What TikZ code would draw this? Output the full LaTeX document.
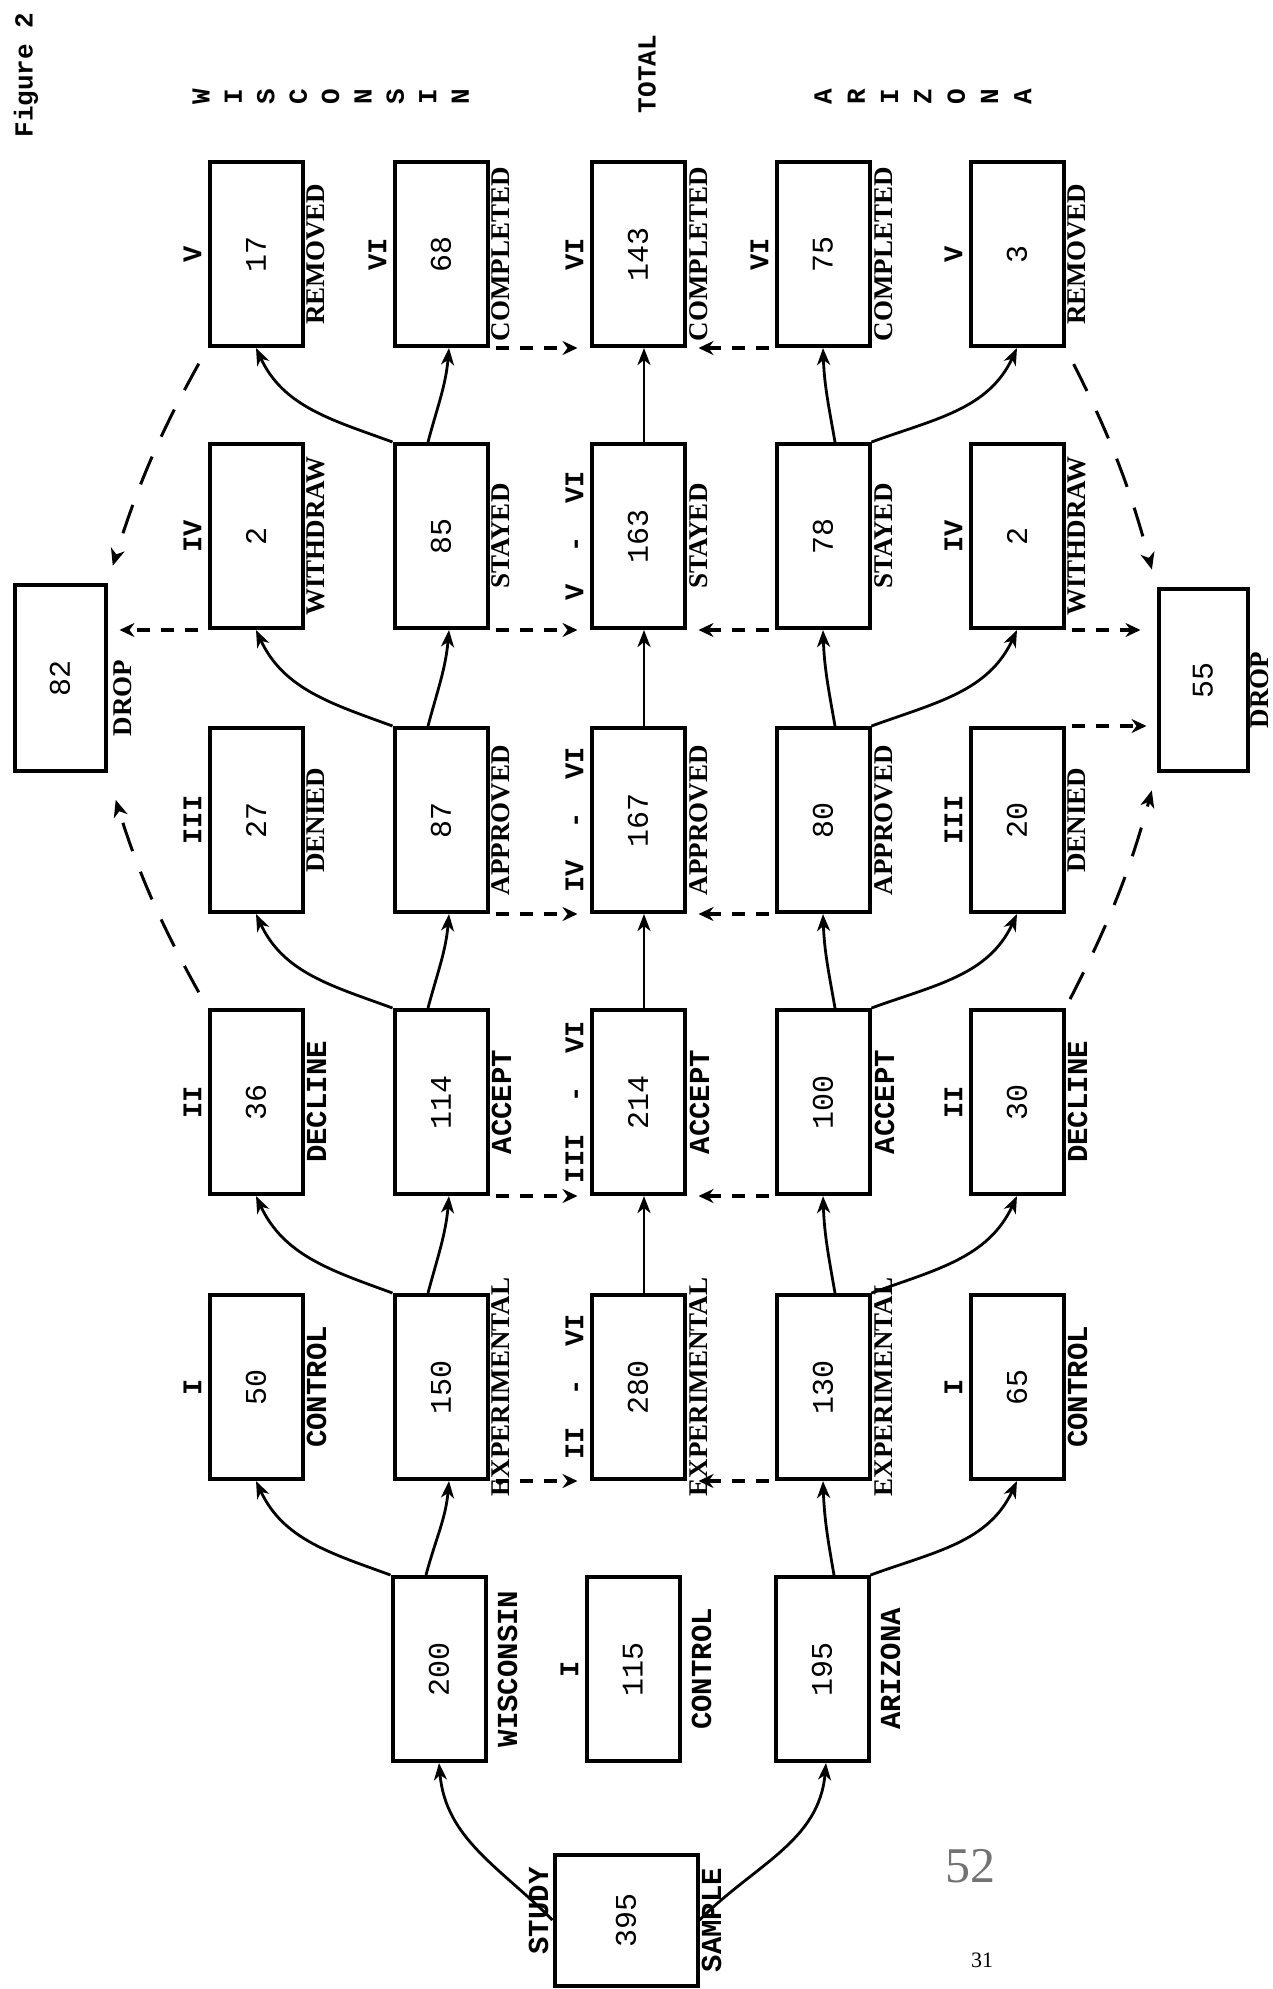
\documentclass[tikz,border=0pt]{standalone}
\usepackage{fontspec}
\usepackage{graphicx}
\setmainfont{Liberation Serif}
\setmonofont{Liberation Mono}
\usetikzlibrary{arrows.meta,positioning}
\tikzset{
  box/.style={draw, line width=4pt, minimum width=93pt, minimum height=184pt, inner sep=0pt, font=\fontsize{30}{30}\selectfont\ttfamily},
  stage/.style={rotate=90, anchor=south, inner sep=0pt, font=\fontsize{27}{27}\selectfont\ttfamily\bfseries},
  tag/.style={rotate=90, anchor=north, inner sep=0pt, font=\fontsize{27}{27}\selectfont\bfseries},
  tagtt/.style={tag, font=\fontsize{29}{29}\selectfont\ttfamily\bfseries},
  head/.style={rotate=90, inner sep=0pt, font=\fontsize{26}{26}\selectfont\ttfamily\bfseries},
  flow/.style={line width=2.8pt, -{Stealth[length=17pt, width=13pt, inset=5pt]}},
  link/.style={line width=4pt, dash pattern=on 13pt off 11pt, -{Stealth[length=15pt, width=14pt, inset=5pt]}, shorten <=6pt, shorten >=12pt},
  droplink/.style={line width=3pt, dash pattern=on 30pt off 22pt, -{Stealth[length=17pt, width=14pt, inset=5pt]}, shorten <=18pt, shorten >=18pt}
}
\begin{document}
\begin{tikzpicture}[x=1pt, y=1pt]
  \useasboundingbox (0,0) rectangle (1273,-1989);
  \fill[white] (0,0) rectangle (1273,-1989);

  \node[head] (fig) at (26,-75) {Figure 2};
  \node[head] (total) at (647,-74) {TOTAL};
  \foreach \c [count=\i] in {W,I,S,C,O,N,S,I,N}
    \node[head] (wis\i) at ({201+32.4*(\i-1)},-97) {\c};
  \foreach \c [count=\i] in {A,R,I,Z,O,N,A}
    \node[head] (ari\i) at ({823+33.3*(\i-1)},-97) {\c};

  \foreach \k/\ypos/\num/\stg/\lab/\sty in {1/1387/50/I/CONTROL/tagtt, 2/1102/36/II/DECLINE/tagtt, 3/820/27/III/DENIED/tag, 4/536/2/IV/WITHDRAW/tag, 5/254/17/V/REMOVED/tag} {
    \node[box] (wa\k) at (256,-\ypos) {\rotatebox{90}{\num}};
    \node[stage] (wa\k s) at ([xshift=-6pt]wa\k.west) {\stg};
    \node[\sty] (wa\k t) at ([xshift=2pt]wa\k.east) {\lab};
  }
  \foreach \k/\ypos/\num/\lab/\sty in {1/1387/150/EXPERIMENTAL/tag, 2/1102/114/ACCEPT/tagtt, 3/820/87/APPROVED/tag, 4/536/85/STAYED/tag, 5/254/68/COMPLETED/tag} {
    \node[box] (wb\k) at (441,-\ypos) {\rotatebox{90}{\num}};
    \node[\sty] (wb\k t) at ([xshift=2pt]wb\k.east) {\lab};
  }
  \node[stage] (wb5s) at ([xshift=-6pt]wb5.west) {VI};
  \foreach \k/\ypos/\num/\stg/\lab/\sty in {1/1387/280/II\ \ -\ \ VI/EXPERIMENTAL/tag, 2/1102/214/III\ \ -\ \ VI/ACCEPT/tagtt, 3/820/167/IV\ \ -\ \ VI/APPROVED/tag, 4/536/163/V\ \ -\ \ VI/STAYED/tag, 5/254/143/VI/COMPLETED/tag} {
    \node[box] (tc\k) at (638,-\ypos) {\rotatebox{90}{\num}};
    \node[stage] (tc\k s) at ([xshift=-6pt]tc\k.west) {\stg};
    \node[\sty] (tc\k t) at ([xshift=3pt]tc\k.east) {\lab};
  }
  \foreach \k/\ypos/\num/\lab/\sty in {1/1387/130/EXPERIMENTAL/tag, 2/1102/100/ACCEPT/tagtt, 3/820/80/APPROVED/tag, 4/536/78/STAYED/tag, 5/254/75/COMPLETED/tag} {
    \node[box] (zb\k) at (823,-\ypos) {\rotatebox{90}{\num}};
    \node[\sty] (zb\k t) at ([xshift=3pt]zb\k.east) {\lab};
  }
  \node[stage] (zb5s) at ([xshift=-6pt]zb5.west) {VI};
  \foreach \k/\ypos/\num/\stg/\lab/\sty in {1/1387/65/I/CONTROL/tagtt, 2/1102/30/II/DECLINE/tagtt, 3/820/20/III/DENIED/tag, 4/536/2/IV/WITHDRAW/tag, 5/254/3/V/REMOVED/tag} {
    \node[box] (za\k) at (1017,-\ypos) {\rotatebox{90}{\num}};
    \node[stage] (za\k s) at ([xshift=-6pt]za\k.west) {\stg};
    \node[\sty] (za\k t) at ([xshift=2pt]za\k.east) {\lab};
  }

  \node[box] (wb0) at (439,-1669) {\rotatebox{90}{200}};
  \node[tagtt] (wb0t) at ([xshift=10pt]wb0.east) {WISCONSIN};
  \node[box] (tc0) at (633,-1669) {\rotatebox{90}{115}};
  \node[stage] (tc0s) at ([xshift=-6pt]tc0.west) {I};
  \node[tagtt] (tc0t) at ([xshift=10pt]tc0.east) {CONTROL};
  \node[box] (zb0) at (822,-1669) {\rotatebox{90}{195}};
  \node[tagtt] (zb0t) at ([xshift=10pt]zb0.east) {ARIZONA};

  \node[box, minimum width=143pt, minimum height=131pt] (sample) at (626,-1920) {\rotatebox{90}{395}};
  \node[tagtt, anchor=south] (samples) at ([xshift=-4pt, yshift=9pt]sample.west) {STUDY};
  \node[tagtt] (samplet) at ([xshift=2pt]sample.east) {SAMPLE};

  \node[box, minimum width=91pt, minimum height=186pt] (dropw) at (60,-678) {\rotatebox{90}{82}};
  \node[tag] (dropwt) at ([xshift=6pt, yshift=-20pt]dropw.east) {DROP};
  \node[box, minimum width=89pt, minimum height=182pt] (dropa) at (1203,-680) {\rotatebox{90}{55}};
  \node[tag] (dropat) at ([xshift=1pt, yshift=-10pt]dropa.east) {DROP};

  \node[font=\fontsize{50}{50}\selectfont, text=black!55] (pgmark) at (970,-1866) {52};
  \node[font=\fontsize{22}{22}\selectfont] (pgnum) at (982,-1960) {31};

  \draw[flow] (sample.west) to[out=135, in=-85] (wb0.south);
  \draw[flow] (sample.east) to[out=45, in=-95] ([xshift=4pt]zb0.south);
  \foreach \a/\b in {0/1,1/2,2/3,3/4,4/5} {
    \draw[flow] (wb\a.north west) to[out=160, in=-65] (wa\b.south);
    \draw[flow] ([xshift=-13pt]wb\a.north) to[out=75, in=-95] ([xshift=8pt]wb\b.south);
    \draw[flow] (zb\a.north east) to[out=20, in=-115] (za\b.south);
    \draw[flow] ([xshift=12pt]zb\a.north) to[out=100, in=-88] (zb\b.south);
  }
  \foreach \a/\b in {1/2,2/3,3/4,4/5}
    \draw[flow] ([xshift=6pt]tc\a.north) -- ([xshift=6pt]tc\b.south);
  \foreach \k in {1,...,5} {
    \draw[link] (wb\k.south east) -- (tc\k.south west);
    \draw[link] (zb\k.south west) -- (tc\k.south east);
  }

  \draw[droplink] (wa5.south west) to[bend right=6] (dropw.north east);
  \draw[link, shorten <=10pt] (wa4.south west) -- (wa4.south west -| dropw.east);
  \draw[droplink, shorten >=28pt] (wa2.north west) to[bend left=6] (dropw.south east);
  \draw[droplink] (za5.south east) to[bend left=6] (dropa.north west);
  \draw[link, shorten >=16pt] (za4.south east) -- (za4.south east -| dropa.west);
  \draw[link, shorten >=10pt] (za3.north east) -- (za3.north east -| dropa.west);
  \draw[droplink, shorten <=10pt] (za2.north east) to[bend right=6] (dropa.south west);
\end{tikzpicture}
\end{document}
